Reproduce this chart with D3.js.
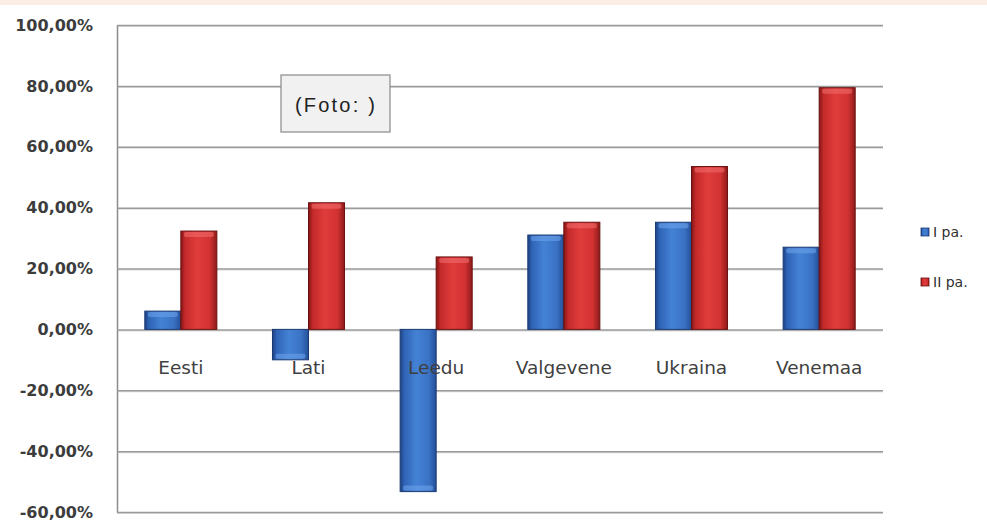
<!DOCTYPE html>
<html>
<head>
<meta charset="utf-8">
<script src="https://cdn.jsdelivr.net/npm/d3@7"></script>
<style>
  html, body { margin: 0; padding: 0; background: #fff; }
  svg { display: block; }
</style>
</head>
<body>
<svg id="chart" width="987" height="522"></svg>
<script>
// ---- data ----
const categories = ["Eesti", "Lati", "Leedu", "Valgevene", "Ukraina", "Venemaa"];
const seriesNames = ["I pa.", "II pa."];
const seriesI  = [6.0, -10.0, -53.3, 31.0, 35.2, 27.0];
const seriesII = [32.3, 41.6, 23.8, 35.2, 53.5, 79.4];
const yTicks = [-60, -40, -20, 0, 20, 40, 60, 80, 100];
const annotationText = "(Foto: )";

// ---- layout ----
const W = 987, H = 522;
const plot = { left: 117, right: 883, top: 25, bottom: 512 };

const svg = d3.select("#chart");
const defs = svg.append("defs");

function hGrad(id, stops) {
  const g = defs.append("linearGradient").attr("id", id)
    .attr("x1", "0%").attr("x2", "100%").attr("y1", "0%").attr("y2", "0%");
  stops.forEach(s => g.append("stop").attr("offset", s[0]).attr("stop-color", s[1]));
}
hGrad("gBlue", [["0%", "#1d4387"], ["12%", "#2f64b6"], ["45%", "#4482d6"], ["80%", "#3a72c4"], ["100%", "#244f98"]]);
hGrad("gRed",  [["0%", "#861616"], ["12%", "#c42a2a"], ["45%", "#e03c3c"], ["80%", "#d23232"], ["100%", "#8e1a1a"]]);
const fills = ["url(#gBlue)", "url(#gRed)"];
const strokes = ["#1b3a70", "#6a1010"];
const caps = ["#6aa2ea", "#f06a6a"];

// top peach strip
svg.append("rect").attr("x", 0).attr("y", 0).attr("width", W).attr("height", 5)
  .attr("fill", "#fbede3");

// ---- scales ----
const y = d3.scaleLinear().domain([-60, 100]).range([plot.bottom, plot.top]);
const x = d3.scaleBand().domain(categories).range([plot.left, plot.right]).padding(0);
const xs = d3.scaleBand().domain(seriesNames).range([0, x.bandwidth()])
  .paddingInner(0).paddingOuter(0.772);

const loc = d3.formatLocale({ decimal: ",", thousands: " ", grouping: [3], currency: ["", "€"], minus: "-" });
const fmt = v => loc.format(".2f")(v) + "%";

// ---- grid + y axis ----
const gridShadow = svg.append("g");
gridShadow.selectAll("line").data(yTicks).join("line")
  .attr("x1", plot.left).attr("x2", plot.right)
  .attr("y1", d => y(d) + 1.5).attr("y2", d => y(d) + 1.5)
  .attr("stroke", "#dcdcdc").attr("stroke-width", 1.2);

const yAxis = svg.append("g")
  .attr("transform", `translate(${plot.left},0)`)
  .call(d3.axisLeft(y).tickValues(yTicks).tickFormat(fmt)
    .tickSize(-(plot.right - plot.left)).tickSizeOuter(0).tickPadding(24));
yAxis.select(".domain").attr("stroke", "#8c8c8c").attr("stroke-width", 1.5);
yAxis.selectAll(".tick line").attr("stroke", "#9a9a9a").attr("stroke-width", 1.5);
yAxis.selectAll(".tick text")
  .attr("font-family", "DejaVu Sans, sans-serif")
  .attr("font-weight", "bold")
  .attr("font-size", 16)
  .attr("fill", "#3c3c3c");

// ---- bars ----
const rows = categories.map((c, i) => ({ cat: c, vals: [seriesI[i], seriesII[i]] }));
const groups = svg.append("g").selectAll("g").data(rows).join("g")
  .attr("transform", d => `translate(${x(d.cat)},0)`);

const bars = groups.selectAll("g.bar")
  .data(d => d.vals.map((v, si) => ({ v, si, s: seriesNames[si] })))
  .join("g").attr("class", "bar");

bars.append("rect")
  .attr("x", d => xs(d.s))
  .attr("y", d => y(Math.max(0, d.v)))
  .attr("width", xs.bandwidth())
  .attr("height", d => Math.abs(y(d.v) - y(0)))
  .attr("fill", d => fills[d.si])
  .attr("stroke", d => strokes[d.si])
  .attr("stroke-width", 1);

// light cap at the outer end of each bar
bars.append("rect")
  .attr("x", d => xs(d.s) + 3)
  .attr("y", d => d.v >= 0 ? y(d.v) + 1 : y(d.v) - 6)
  .attr("width", xs.bandwidth() - 6)
  .attr("height", 5)
  .attr("rx", 2)
  .attr("fill", d => caps[d.si])
  .attr("opacity", 0.6);

// ---- category labels ----
svg.append("g").selectAll("text").data(categories).join("text")
  .attr("x", d => x(d) + x.bandwidth() / 2)
  .attr("y", y(0) + 45)
  .attr("text-anchor", "middle")
  .attr("font-family", "DejaVu Sans, sans-serif")
  .attr("font-size", 18.5)
  .attr("fill", "#404040")
  .text(d => d);

// ---- legend ----
const legend = svg.append("g").attr("transform", "translate(921,228)");
const li = legend.selectAll("g").data(seriesNames).join("g")
  .attr("transform", (d, i) => `translate(0,${i * 50})`);
li.append("rect").attr("width", 8).attr("height", 8)
  .attr("fill", (d, i) => fills[i]).attr("stroke", (d, i) => strokes[i]).attr("stroke-width", 0.8);
li.append("text").attr("x", 12).attr("y", 9)
  .attr("font-family", "DejaVu Sans, sans-serif")
  .attr("font-size", 14)
  .attr("fill", "#303030")
  .text(d => d);

// ---- annotation box ----
const ann = svg.append("g").attr("transform", "translate(281,75)");
ann.append("rect").attr("width", 109).attr("height", 57)
  .attr("fill", "#f1f1f1").attr("stroke", "#8a8a8a").attr("stroke-width", 1.2);
ann.append("text").attr("x", 55).attr("y", 37)
  .attr("text-anchor", "middle")
  .attr("font-family", "Liberation Sans, Arial, sans-serif")
  .attr("font-size", 20)
  .attr("letter-spacing", 2.2)
  .attr("fill", "#222")
  .text(annotationText);
</script>
</body>
</html>
